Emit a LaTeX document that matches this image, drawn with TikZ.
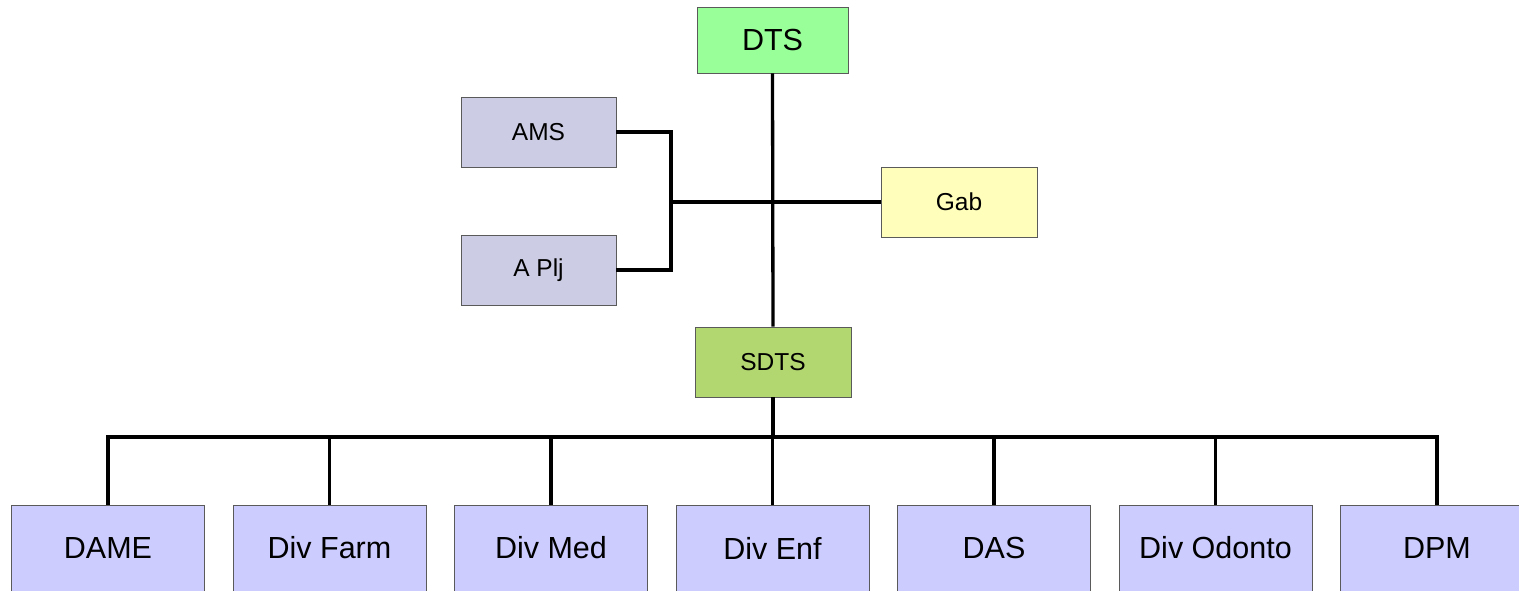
\documentclass[tikz,border=0pt]{standalone}
\usepackage{fontspec}
\setmainfont{Liberation Sans}
\definecolor{dtsgreen}{RGB}{153,255,153}
\definecolor{sdtsgreen}{RGB}{178,214,112}
\definecolor{gabyellow}{RGB}{255,255,187}
\definecolor{staffgray}{RGB}{204,204,228}
\definecolor{divblue}{RGB}{204,204,255}
\definecolor{boxline}{RGB}{90,90,90}
\tikzset{unit/.style={draw=boxline, line width=0.8pt, inner sep=0pt},
%small boxes of the upper part
smallunit/.style={unit, minimum width=155pt, minimum height=70pt, font=\fontsize{24.5}{26}\selectfont},
%boxes of the lower row
divunit/.style={unit, fill=divblue, minimum width=193pt, minimum height=86pt, font=\fontsize{30.5}{32}\selectfont},
link/.style={line width=3.3pt, black}}

\begin{document}
\begin{tikzpicture}[x=1pt, y=-1pt]

    \useasboundingbox (0,0) rectangle (1519,590);

    \node[unit, fill=dtsgreen, minimum width=151pt, minimum height=66pt,
      font=\fontsize{30.5}{32}\selectfont] (dts) at (772.5,40) {DTS};
    \node[smallunit, fill=staffgray] (ams) at (538.5,132) {AMS};
    \node[smallunit, fill=staffgray] (aplj) at (538.5,270) {A Plj};
    \node[smallunit, fill=gabyellow, minimum width=156pt] (gab) at (959,202) {Gab};
    \node[smallunit, fill=sdtsgreen, minimum width=156pt] (sdts) at (773,362) {SDTS};

    \coordinate (j) at (671,202);
    \coordinate (bus) at (773,437);

    \foreach \name [count=\i from 0] in {DAME, Div Farm, Div Med, Div Enf, DAS, Div Odonto, DPM}
    \node[divunit] (d\i) at (108+221.5*\i,548) {\name};

    \draw[link] (dts.south) -- (sdts.north);
    \draw[link] (ams.east) -| (j) |- (aplj.east);
    \draw[link] (j) -- (gab.west);
    \draw[link] (sdts.south) -- (bus);

    \draw[link] (d0.north) -- (d0.north |- bus) -- (d6.north |- bus) -- (d6.north);
    \foreach \i in {1,2,3,4,5}
    \draw[link] (d\i.north) -- (d\i.north |- bus);

  \end{tikzpicture}
\end{document}
